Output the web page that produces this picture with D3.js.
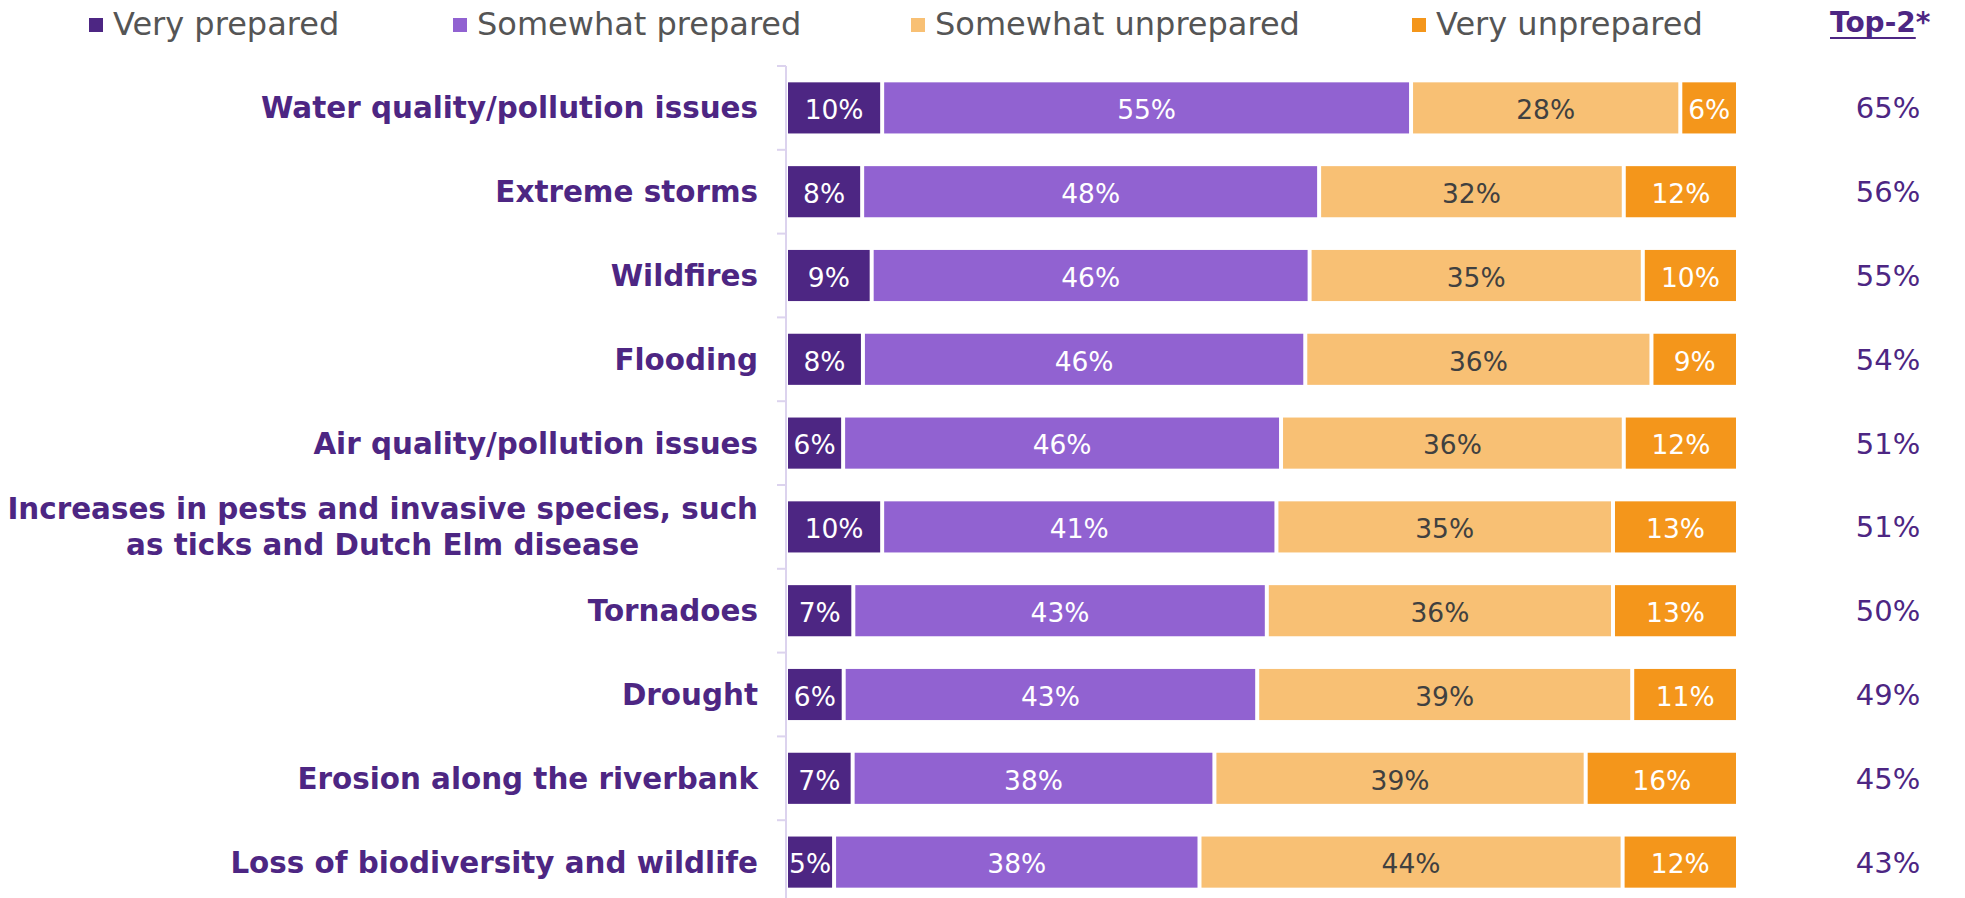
<!DOCTYPE html>
<html>
<head>
<meta charset="utf-8">
<script src="https://cdn.jsdelivr.net/npm/d3@7"></script>
<style>
  html, body { margin: 0; padding: 0; background: #fff; }
  svg { display: block; font-family: "DejaVu Sans", Verdana, sans-serif; }
</style>
</head>
<body>
<svg id="chart" width="1965" height="898"></svg>
<script>
// Preparedness ratings per climate-related issue (percent of respondents)
const categories = [
  "Water quality/pollution issues",
  "Extreme storms",
  "Wildfires",
  "Flooding",
  "Air quality/pollution issues",
  "Increases in pests and invasive species, such|as ticks and Dutch Elm disease",
  "Tornadoes",
  "Drought",
  "Erosion along the riverbank",
  "Loss of biodiversity and wildlife"
];
const seriesNames = ["Very prepared", "Somewhat prepared", "Somewhat unprepared", "Very unprepared"];
const veryPrepared        = [10, 8, 9, 8, 6, 10, 7, 6, 7, 5];
const somewhatPrepared    = [55, 48, 46, 46, 46, 41, 43, 43, 38, 38];
const somewhatUnprepared  = [28, 32, 35, 36, 36, 35, 36, 39, 39, 44];
const veryUnprepared      = [6, 12, 10, 9, 12, 13, 13, 11, 16, 12];
const top2                = [65, 56, 55, 54, 51, 51, 50, 49, 45, 43];
const top2Title = "Top-2";

const colors = ["#4D2683", "#9162D1", "#F8C074", "#F4961B"];
const labelColors = ["#ffffff", "#ffffff", "#404040", "#ffffff"];
const purple = "#4D2683";

const seriesValues = [veryPrepared, somewhatPrepared, somewhatUnprepared, veryUnprepared];

// Each row is shown as a share of its own total (100% stacked)
const rows = categories.map((c, i) => {
  const vals = seriesValues.map(s => s[i]);
  const total = d3.sum(vals);
  let acc = 0;
  const segs = vals.map((v, k) => {
    const seg = { key: k, value: v, x0: acc / total, x1: (acc + v) / total };
    acc += v;
    return seg;
  });
  return { name: c, index: i, segs };
});

const svg = d3.select("#chart");
const axisX = 786;

const x = d3.scaleLinear().domain([0, 1]).range([axisX, 1738]);
const y = d3.scaleBand().domain(d3.range(categories.length))
  .range([66, 904]).paddingInner(0.39).paddingOuter(0.195);

// Vertical axis line with ticks between categories
const step = y.step();
svg.append("line")
  .attr("x1", axisX).attr("x2", axisX)
  .attr("y1", 66).attr("y2", 898)
  .attr("stroke", "#DCD3EE").attr("stroke-width", 2);
svg.append("g").selectAll("line")
  .data(d3.range(categories.length + 1))
  .join("line")
  .attr("x1", axisX - 9).attr("x2", axisX)
  .attr("y1", i => 66 + i * step).attr("y2", i => 66 + i * step)
  .attr("stroke", "#DCD3EE").attr("stroke-width", 2);

// Bars
const rowG = svg.append("g").selectAll("g")
  .data(rows)
  .join("g")
  .attr("transform", d => `translate(0,${y(d.index)})`);

rowG.selectAll("rect")
  .data(d => d.segs)
  .join("rect")
  .attr("x", s => x(s.x0) + 2)
  .attr("width", s => Math.max(0, x(s.x1) - x(s.x0) - 4))
  .attr("y", 0)
  .attr("height", y.bandwidth())
  .attr("fill", s => colors[s.key]);

rowG.selectAll("text")
  .data(d => d.segs)
  .join("text")
  .attr("x", s => (x(s.x0) + x(s.x1)) / 2)
  .attr("y", y.bandwidth() / 2)
  .attr("dy", "0.43em")
  .attr("text-anchor", "middle")
  .attr("font-size", 26.5)
  .attr("fill", s => labelColors[s.key])
  .text(s => s.value + "%");

// Category labels (bold, purple), multi-line labels centred within their block
const labelRight = 758;
const lineH = 36;
const catFont = 29.4;
svg.append("g").selectAll("text")
  .data(rows)
  .join("text")
  .attr("font-size", catFont)
  .attr("font-weight", "bold")
  .attr("fill", purple)
  .each(function (d) {
    const t = d3.select(this);
    const lines = d.name.split("|");
    const cy = y(d.index) + y.bandwidth() / 2;
    const y0 = cy - (lines.length - 1) * lineH / 2;
    if (lines.length === 1) {
      t.attr("text-anchor", "end").attr("x", labelRight).attr("y", y0).attr("dy", "0.36em").text(lines[0]);
    } else {
      // measure the widest line to centre the block
      t.attr("text-anchor", "middle");
      const probe = svg.append("text").attr("font-size", catFont).attr("font-weight", "bold");
      const widths = lines.map(l => { probe.text(l); return probe.node().getComputedTextLength(); });
      probe.remove();
      const cx = labelRight - d3.max(widths) / 2;
      lines.forEach((l, k) => {
        t.append("tspan").attr("x", cx).attr("y", y0 + k * lineH).attr("dy", "0.36em").text(l);
      });
    }
  });

// Top-2 column
const top2X = 1888;
svg.append("g").selectAll("text")
  .data(top2)
  .join("text")
  .attr("x", top2X)
  .attr("y", (d, i) => y(i) + y.bandwidth() / 2)
  .attr("dy", "0.36em")
  .attr("text-anchor", "middle")
  .attr("font-size", 29)
  .attr("fill", purple)
  .text(d => d + "%");

const header = svg.append("text")
  .attr("x", 1830).attr("y", 32)
  .attr("font-size", 28).attr("font-weight", "bold")
  .attr("fill", purple);
const headMain = header.append("tspan").text(top2Title);
header.append("tspan").text("*");
const hw = headMain.node().getComputedTextLength();
svg.append("line")
  .attr("x1", 1830).attr("x2", 1830 + hw)
  .attr("y1", 38).attr("y2", 38)
  .attr("stroke", purple).attr("stroke-width", 2.2);

// Legend
const legendX = [89, 453, 911, 1412];
const legend = svg.append("g").selectAll("g")
  .data(seriesNames)
  .join("g")
  .attr("transform", (d, i) => `translate(${legendX[i]},0)`);
legend.append("rect")
  .attr("x", 0).attr("y", 18).attr("width", 14).attr("height", 14)
  .attr("fill", (d, i) => colors[i]);
legend.append("text")
  .attr("x", 24).attr("y", 35)
  .attr("font-size", 32)
  .attr("fill", "#555555")
  .text(d => d);
</script>
</body>
</html>
